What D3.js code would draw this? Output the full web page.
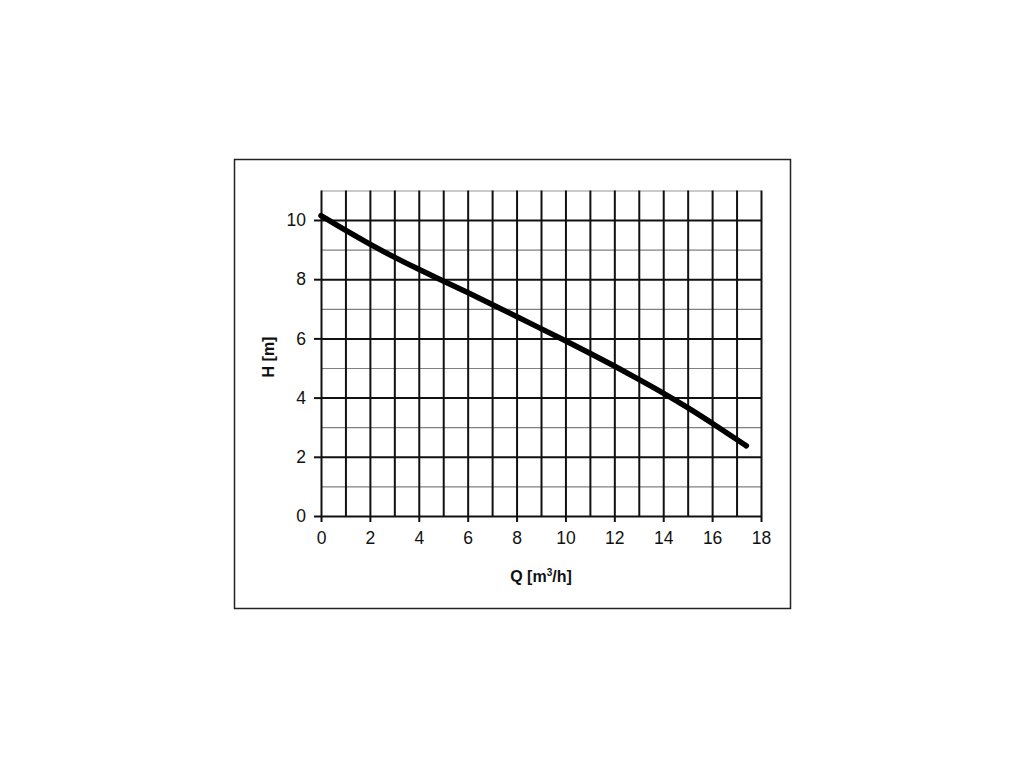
<!DOCTYPE html>
<html>
<head>
<meta charset="utf-8">
<script src="https://cdn.jsdelivr.net/npm/d3@7"></script>
<style>
  html, body { margin: 0; padding: 0; background: #fff; }
  svg { display: block; }
  text { font-family: "Liberation Sans", Arial, sans-serif; fill: #111; }
</style>
</head>
<body>
<svg id="chart" width="1024" height="768"></svg>
<script>
// Data
const flowQ = [0, 1, 2, 3, 4, 5, 6, 7, 8, 9, 10, 11, 12, 13, 14, 15, 16, 17, 17.4];
const headH = [10.15, 9.65, 9.18, 8.74, 8.33, 7.94, 7.55, 7.15, 6.74, 6.33, 5.92, 5.5, 5.07, 4.62, 4.16, 3.67, 3.14, 2.59, 2.37];
const xTickLabels = [0, 2, 4, 6, 8, 10, 12, 14, 16, 18];
const yTickLabels = [0, 2, 4, 6, 8, 10];
const yMinorLines = [1, 3, 5, 7, 9];
const xGridLines = d3.range(0, 19);
const yTitle = "H [m]";

const svg = d3.select("#chart");
svg.append("rect").attr("width", 1024).attr("height", 768).attr("fill", "#fff");

// outer frame
svg.append("rect")
  .attr("x", 234.5).attr("y", 159.5)
  .attr("width", 556).attr("height", 449)
  .attr("fill", "none").attr("stroke", "#222").attr("stroke-width", 1.5);

const x = d3.scaleLinear().domain([0, 18]).range([321, 761]);
const y = d3.scaleLinear().domain([0, 11]).range([516, 190.4]);
const plotW = x(18) - x(0);
const plotH = y(0) - y(11);

// minor horizontal grid (gray)
svg.append("g")
  .attr("transform", `translate(${x(0)},0)`)
  .call(d3.axisLeft(y).tickValues(yMinorLines).tickSize(-plotW).tickFormat(""))
  .call(g => g.select(".domain").remove())
  .call(g => g.selectAll("line").attr("stroke", "#808080").attr("stroke-width", 1.2));

// top gray line at 11
svg.append("g")
  .attr("transform", `translate(${x(0)},0)`)
  .call(d3.axisLeft(y).tickValues([11]).tickSize(-plotW).tickFormat(""))
  .call(g => g.select(".domain").remove())
  .call(g => g.selectAll("line").attr("stroke", "#b8b8b8").attr("stroke-width", 1.5));

// vertical grid (black)
svg.append("g")
  .attr("transform", `translate(0,${y(0)})`)
  .call(d3.axisBottom(x).tickValues(xGridLines).tickSize(-plotH).tickFormat(""))
  .call(g => g.select(".domain").remove())
  .call(g => g.selectAll("line").attr("stroke", "#111").attr("stroke-width", 2));

// major horizontal grid (black)
svg.append("g")
  .attr("transform", `translate(${x(0)},0)`)
  .call(d3.axisLeft(y).tickValues(yTickLabels).tickSize(-plotW).tickFormat(""))
  .call(g => g.select(".domain").remove())
  .call(g => g.selectAll("line").attr("stroke", "#111").attr("stroke-width", 2));

// y axis ticks + labels
svg.append("g")
  .attr("transform", `translate(${x(0)},0)`)
  .call(d3.axisLeft(y).tickValues(yTickLabels).tickSize(7).tickPadding(8).tickFormat(d3.format("d")))
  .call(g => g.select(".domain").remove())
  .call(g => g.selectAll("line").attr("stroke", "#111").attr("stroke-width", 2))
  .call(g => g.selectAll("text").attr("font-size", 17.5).attr("fill", "#111")
    .attr("font-family", "'Liberation Sans', Arial, sans-serif"));

// x axis ticks + labels
svg.append("g")
  .attr("transform", `translate(0,${y(0)})`)
  .call(d3.axisBottom(x).tickValues(xTickLabels).tickSize(6).tickPadding(10).tickFormat(d3.format("d")))
  .call(g => g.select(".domain").remove())
  .call(g => g.selectAll("line").attr("stroke", "#111").attr("stroke-width", 2))
  .call(g => g.selectAll("text").attr("font-size", 17.5).attr("fill", "#111")
    .attr("font-family", "'Liberation Sans', Arial, sans-serif"));

// curve
const pts = flowQ.map((q, i) => [q, headH[i]]);
svg.append("path")
  .datum(pts)
  .attr("fill", "none")
  .attr("stroke", "#000")
  .attr("stroke-width", 5.5)
  .attr("stroke-linecap", "round")
  .attr("stroke-linejoin", "round")
  .attr("d", d3.line().x(d => x(d[0])).y(d => y(d[1])).curve(d3.curveBasis));

// axis titles
const xt = svg.append("text")
  .attr("x", 541).attr("y", 582)
  .attr("text-anchor", "middle")
  .attr("font-size", 16).attr("font-weight", "bold");
xt.append("tspan").text("Q [m");
xt.append("tspan").text("3").attr("font-size", 10).attr("dy", -6);
xt.append("tspan").text("/h]").attr("dy", 6);

svg.append("text")
  .attr("transform", "translate(274,357) rotate(-90)")
  .attr("text-anchor", "middle")
  .attr("font-size", 16).attr("font-weight", "bold")
  .text(yTitle);
</script>
</body>
</html>
